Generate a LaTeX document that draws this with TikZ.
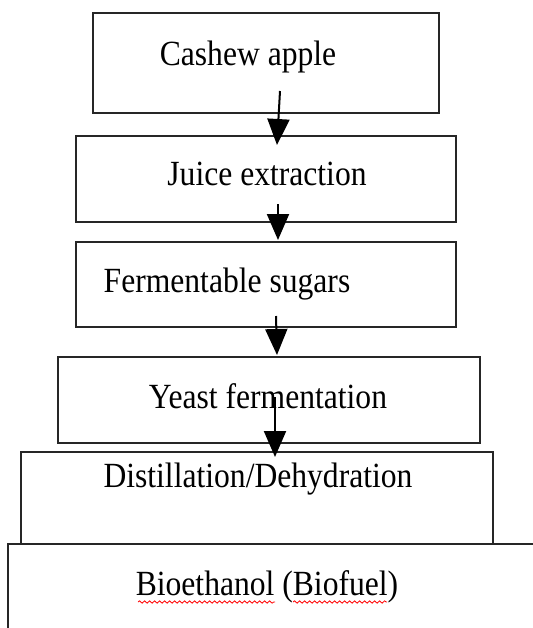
\documentclass[tikz,border=0pt]{standalone}
\usepackage{fontspec}
\setmainfont{Liberation Serif}
\usetikzlibrary{
  arrows.meta,
  decorations.pathmorphing
}
\newcommand{\tallword}[1]{\scalebox{1}[1.12]{#1}}

\begin{document}
\begin{tikzpicture}[
  x=0.5pt, y=-0.5pt,
  stepbox/.style={
    draw=black!85, line width=1.1pt, inner sep=0pt
  },
  steptext/.style={
    font=\fontsize{15.8}{19}\selectfont, anchor=base, inner sep=0pt
  },
  flow/.style={-{Triangle[width=11pt, length=13pt]}, line width=1pt},
  spell/.style={
    draw=red, line width=0.4pt, decorate,
    decoration={snake, amplitude=0.6pt, segment length=2.5pt}
  }
]
  \clip (0,0) rectangle (533,628);

  % boxes
  \node[stepbox, minimum width=173pt, minimum height=50pt]   (apple)   at (266,63)  {};
  \node[stepbox, minimum width=190pt, minimum height=43pt]   (juice)   at (266,179) {};
  \node[stepbox, minimum width=190pt, minimum height=42.5pt] (sugars)  at (266,284.5) {};
  \node[stepbox, minimum width=211pt, minimum height=43pt]   (yeast)   at (269,400) {};
  \node[stepbox, minimum width=236pt, minimum height=46pt]   (distil)  at (257,498) {};
  \node[stepbox, minimum width=276pt, minimum height=58pt]   (ethanol) at (284,602) {};

  % labels
  \node[steptext] (appletxt)   at (248,65)  {\tallword{Cashew apple}};
  \node[steptext] (juicetxt)   at (267,185) {\tallword{Juice extraction}};
  \node[steptext] (sugarstxt)  at (227,292) {\tallword{Fermentable sugars}};
  \node[steptext] (yeasttxt)   at (268,408) {\tallword{Yeast fermentation}};
  \node[steptext] (distiltxt)  at (258,487) {\tallword{Distillation/Dehydration}};
  \node[steptext] (ethanoltxt) at (267,595) {\tallword{Bioethanol (Biofuel)}};
  \draw[spell] (138,602) -- (275,602);
  \draw[spell] (293,602) -- (387,602);

  % arrows
  \coordinate (a1s) at (280,91);  \coordinate (a1e) at (277,145);
  \coordinate (a2s) at (278,204); \coordinate (a2e) at (278,240);
  \coordinate (a3s) at (276,316); \coordinate (a3e) at (277,355);
  \coordinate (a4s) at (275,397); \coordinate (a4e) at (275,457);
  \draw[flow] (a1s) -- (a1e);
  \draw[flow] (a2s) -- (a2e);
  \draw[flow] (a3s) -- (a3e);
  \draw[flow] (a4s) -- (a4e);
\end{tikzpicture}
\end{document}
